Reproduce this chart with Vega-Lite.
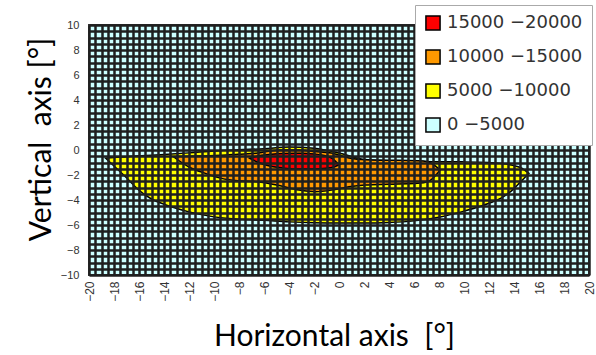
{
  "$schema": "https://vega.github.io/schema/vega-lite/v6.json",
  "width": 500,
  "height": 250,
  "autosize": "none",
  "padding": {"left": 89, "top": 25, "right": 7, "bottom": 80},
  "background": "white",
  "config": {
    "view": {"fill": "#CCFFFF", "stroke": "#333333", "strokeWidth": 2}
  },
  "data": {
    "values": [
      {"band": 1, "level": "5000 −10000", "x": -18.67, "top": -0.66, "bottom": -0.66},
      {"band": 1, "level": "5000 −10000", "x": -18, "top": -0.6, "bottom": -1.28},
      {"band": 1, "level": "5000 −10000", "x": -17, "top": -0.54, "bottom": -2.22},
      {"band": 1, "level": "5000 −10000", "x": -16, "top": -0.46, "bottom": -3.22},
      {"band": 1, "level": "5000 −10000", "x": -15, "top": -0.42, "bottom": -3.92},
      {"band": 1, "level": "5000 −10000", "x": -14, "top": -0.36, "bottom": -4.34},
      {"band": 1, "level": "5000 −10000", "x": -12, "top": -0.23, "bottom": -4.95},
      {"band": 1, "level": "5000 −10000", "x": -10, "top": -0.08, "bottom": -5.35},
      {"band": 1, "level": "5000 −10000", "x": -8, "top": 0.02, "bottom": -5.53},
      {"band": 1, "level": "5000 −10000", "x": -6, "top": 0.1, "bottom": -5.63},
      {"band": 1, "level": "5000 −10000", "x": -4, "top": 0.24, "bottom": -5.75},
      {"band": 1, "level": "5000 −10000", "x": -2, "top": 0.14, "bottom": -5.82},
      {"band": 1, "level": "5000 −10000", "x": 0, "top": -0.24, "bottom": -5.84},
      {"band": 1, "level": "5000 −10000", "x": 2, "top": -0.76, "bottom": -5.84},
      {"band": 1, "level": "5000 −10000", "x": 4, "top": -0.86, "bottom": -5.8},
      {"band": 1, "level": "5000 −10000", "x": 6, "top": -0.9, "bottom": -5.67},
      {"band": 1, "level": "5000 −10000", "x": 8, "top": -0.94, "bottom": -5.38},
      {"band": 1, "level": "5000 −10000", "x": 10, "top": -0.95, "bottom": -4.89},
      {"band": 1, "level": "5000 −10000", "x": 12, "top": -0.99, "bottom": -4.26},
      {"band": 1, "level": "5000 −10000", "x": 13, "top": -1.08, "bottom": -3.83},
      {"band": 1, "level": "5000 −10000", "x": 14, "top": -1.25, "bottom": -3.09},
      {"band": 1, "level": "5000 −10000", "x": 14.5, "top": -1.4, "bottom": -2.58},
      {"band": 1, "level": "5000 −10000", "x": 15.2, "top": -1.86, "bottom": -1.86},
      {"band": 2, "level": "10000 −15000", "x": -13.25, "top": -0.54, "bottom": -0.54},
      {"band": 2, "level": "10000 −15000", "x": -12, "top": -0.5, "bottom": -1.36},
      {"band": 2, "level": "10000 −15000", "x": -10.7, "top": -0.47, "bottom": -1.87},
      {"band": 2, "level": "10000 −15000", "x": -9.4, "top": -0.42, "bottom": -2.27},
      {"band": 2, "level": "10000 −15000", "x": -8.1, "top": -0.34, "bottom": -2.46},
      {"band": 2, "level": "10000 −15000", "x": -6.5, "top": -0.24, "bottom": -2.54},
      {"band": 2, "level": "10000 −15000", "x": -4.8, "top": 0.0, "bottom": -2.84},
      {"band": 2, "level": "10000 −15000", "x": -3.2, "top": 0.0, "bottom": -3.2},
      {"band": 2, "level": "10000 −15000", "x": -1.9, "top": -0.12, "bottom": -3.33},
      {"band": 2, "level": "10000 −15000", "x": -0.6, "top": -0.24, "bottom": -3.21},
      {"band": 2, "level": "10000 −15000", "x": 0.8, "top": -0.64, "bottom": -2.94},
      {"band": 2, "level": "10000 −15000", "x": 2.1, "top": -0.79, "bottom": -2.8},
      {"band": 2, "level": "10000 −15000", "x": 4, "top": -0.82, "bottom": -2.74},
      {"band": 2, "level": "10000 −15000", "x": 6.3, "top": -0.86, "bottom": -2.66},
      {"band": 2, "level": "10000 −15000", "x": 7.1, "top": -0.94, "bottom": -2.54},
      {"band": 2, "level": "10000 −15000", "x": 8.1, "top": -1.6, "bottom": -1.6},
      {"band": 3, "level": "15000 −20000", "x": -7.14, "top": -0.66, "bottom": -0.66},
      {"band": 3, "level": "15000 −20000", "x": -6.5, "top": -0.48, "bottom": -0.98},
      {"band": 3, "level": "15000 −20000", "x": -5.56, "top": -0.36, "bottom": -1.28},
      {"band": 3, "level": "15000 −20000", "x": -4.37, "top": -0.28, "bottom": -1.45},
      {"band": 3, "level": "15000 −20000", "x": -3.17, "top": -0.26, "bottom": -1.52},
      {"band": 3, "level": "15000 −20000", "x": -1.98, "top": -0.32, "bottom": -1.52},
      {"band": 3, "level": "15000 −20000", "x": -1.03, "top": -0.48, "bottom": -1.46},
      {"band": 3, "level": "15000 −20000", "x": -0.48, "top": -0.72, "bottom": -1.38},
      {"band": 3, "level": "15000 −20000", "x": -0.08, "top": -1.08, "bottom": -1.22},
      {"band": 3, "level": "15000 −20000", "x": 0.08, "top": -1.15, "bottom": -1.15}
    ]
  },
  "encoding": {
    "x": {
      "field": "x",
      "type": "quantitative",
      "scale": {"domain": [-20, 20], "nice": false, "zero": false},
      "axis": {
        "values": [-20,-19.5,-19,-18.5,-18,-17.5,-17,-16.5,-16,-15.5,-15,-14.5,-14,-13.5,-13,-12.5,-12,-11.5,-11,-10.5,-10,-9.5,-9,-8.5,-8,-7.5,-7,-6.5,-6,-5.5,-5,-4.5,-4,-3.5,-3,-2.5,-2,-1.5,-1,-0.5,0,0.5,1,1.5,2,2.5,3,3.5,4,4.5,5,5.5,6,6.5,7,7.5,8,8.5,9,9.5,10,10.5,11,11.5,12,12.5,13,13.5,14,14.5,15,15.5,16,16.5,17,17.5,18,18.5,19,19.5,20],
        "labelExpr": "datum.value % 2 === 0 ? format(datum.value, 'd') : ''",
        "labelOverlap": false,
        "labelAngle": -90,
        "labelFont": "Liberation Sans",
        "labelFontSize": 12,
        "labelColor": "#333333",
        "labelPadding": 6,
        "ticks": false,
        "domain": false,
        "grid": true,
        "gridColor": "#1f1f1f",
        "gridWidth": 2.5,
        "gridOpacity": 1,
        "zindex": 1,
        "title": "Horizontal axis\u00a0\u00a0[°]",
        "titleFont": "Lato",
        "titleFontSize": 30,
        "titleFontWeight": "normal",
        "titleColor": "#000000",
        "titleX": 245,
        "titleY": 46,
        "titleAlign": "center",
        "titleBaseline": "top"
      }
    },
    "y": {
      "field": "top",
      "type": "quantitative",
      "scale": {"domain": [-10, 10], "nice": false, "zero": false},
      "axis": {
        "values": [-10,-9.5,-9,-8.5,-8,-7.5,-7,-6.5,-6,-5.5,-5,-4.5,-4,-3.5,-3,-2.5,-2,-1.5,-1,-0.5,0,0.5,1,1.5,2,2.5,3,3.5,4,4.5,5,5.5,6,6.5,7,7.5,8,8.5,9,9.5,10],
        "labelExpr": "datum.value % 2 === 0 ? format(datum.value, 'd') : ''",
        "labelOverlap": false,
        "labelFont": "Liberation Sans",
        "labelFontSize": 11,
        "labelColor": "#333333",
        "labelPadding": 10,
        "ticks": false,
        "domain": false,
        "grid": true,
        "gridColor": "#1f1f1f",
        "gridWidth": 2.5,
        "gridOpacity": 1,
        "zindex": 1,
        "title": "Vertical\u00a0\u00a0axis [°]",
        "titleFont": "Lato",
        "titleFontSize": 30,
        "titleFontWeight": "normal",
        "titleColor": "#000000",
        "titleAngle": -90,
        "titleX": -33,
        "titleY": 114,
        "titleAlign": "center",
        "titleBaseline": "bottom"
      }
    },
    "y2": {"field": "bottom"},
    "color": {
      "field": "level",
      "type": "nominal",
      "scale": {
        "domain": ["15000 −20000", "10000 −15000", "5000 −10000", "0 −5000"],
        "range": ["#FF0000", "#FF9900", "#FFFF00", "#CCFFFF"]
      },
      "legend": {
        "title": null,
        "orient": "none",
        "legendX": 326,
        "legendY": -20,
        "zindex": 2,
        "fillColor": "white",
        "strokeColor": "#aaaaaa",
        "padding": 9,
        "symbolType": "square",
        "symbolSize": 200,
        "symbolStrokeColor": "#000000",
        "symbolStrokeWidth": 1.5,
        "symbolOpacity": 1,
        "labelFont": "DejaVu Sans",
        "labelFontSize": 18,
        "labelColor": "#333333",
        "labelOffset": 5,
        "rowPadding": 12
      }
    }
  },
  "layer": [
    {
      "transform": [{"filter": "datum.band === 1"}],
      "mark": {"type": "area", "interpolate": "monotone", "opacity": 1, "stroke": "#000000", "strokeWidth": 1.5}
    },
    {
      "transform": [{"filter": "datum.band === 2"}],
      "mark": {"type": "area", "interpolate": "monotone", "opacity": 1, "stroke": "#000000", "strokeWidth": 1.5}
    },
    {
      "transform": [{"filter": "datum.band === 3"}],
      "mark": {"type": "area", "interpolate": "monotone", "opacity": 1, "stroke": "#000000", "strokeWidth": 1.5}
    }
  ]
}
